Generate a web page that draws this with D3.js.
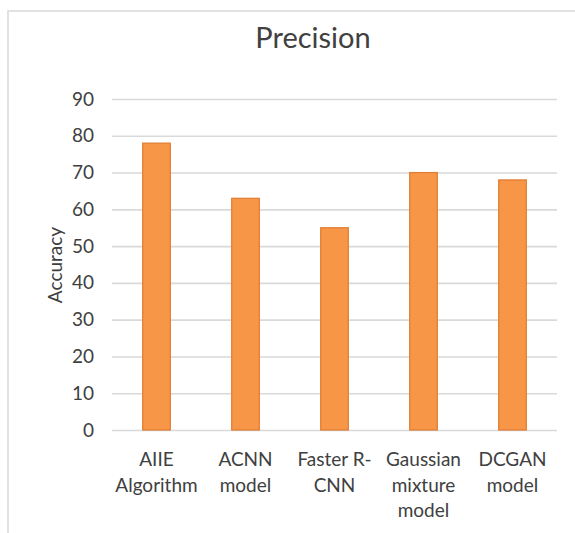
<!DOCTYPE html>
<html>
<head>
<meta charset="utf-8">
<script src="https://cdn.jsdelivr.net/npm/d3@7"></script>
<style>
  html, body { margin: 0; padding: 0; background: #fff; }
  svg { display: block; }
</style>
</head>
<body>
<svg id="chart" width="575" height="533"></svg>
<script>
const categories = [
  ["AIIE", "Algorithm"],
  ["ACNN", "model"],
  ["Faster R-", "CNN"],
  ["Gaussian", "mixture", "model"],
  ["DCGAN", "model"]
];
const categoryKeys = ["AIIE Algorithm", "ACNN model", "Faster R-CNN", "Gaussian mixture model", "DCGAN model"];
const precisionValues = [78, 63, 55, 70, 68];
const yTicks = [0, 10, 20, 30, 40, 50, 60, 70, 80, 90];
const titleText = "Precision";
const yAxisTitle = "Accuracy";

const FONT = "Lato, 'Open Sans', sans-serif";
const TEXT = "#404040";

const svg = d3.select("#chart");

// frame
svg.append("rect")
  .attr("x", 8).attr("y", 11)
  .attr("width", 600).attr("height", 600)
  .attr("fill", "none")
  .attr("stroke", "#d9d9d9")
  .attr("stroke-width", 1.5);

const x = d3.scaleBand()
  .domain(categoryKeys)
  .range([112, 557])
  .paddingInner(0.69)
  .paddingOuter(0.345);

const y = d3.scaleLinear()
  .domain([0, 90])
  .range([430, 99]);

// gridlines
const yAxis = d3.axisLeft(y)
  .tickValues(yTicks)
  .tickSize(-(557 - 112))
  .tickPadding(18);

const gy = svg.append("g")
  .attr("transform", "translate(112,0)")
  .call(yAxis);
gy.select(".domain").remove();
gy.selectAll(".tick line")
  .attr("stroke", "#d9d9d9")
  .attr("stroke-width", 1.6);
gy.selectAll(".tick text")
  .attr("fill", TEXT)
  .style("font-family", FONT)
  .style("font-size", "19px");

// bars
svg.append("g").selectAll("rect")
  .data(precisionValues)
  .join("rect")
  .attr("x", (d, i) => x(categoryKeys[i]))
  .attr("width", x.bandwidth())
  .attr("y", d => y(d))
  .attr("height", d => y(0) - y(d))
  .attr("fill", "#f79646")
  .attr("stroke", "#e07b32")
  .attr("stroke-width", 1.2);

// category labels
const gx = svg.append("g");
categories.forEach((lines, i) => {
  const cx = x(categoryKeys[i]) + x.bandwidth() / 2;
  const t = gx.append("text")
    .attr("text-anchor", "middle")
    .attr("fill", TEXT)
    .style("font-family", FONT)
    .style("font-size", "19px");
  lines.forEach((ln, j) => {
    t.append("tspan")
      .attr("x", cx)
      .attr("y", 466 + j * 25.5)
      .text(ln);
  });
});

// title
svg.append("text")
  .attr("x", 313)
  .attr("y", 48)
  .attr("text-anchor", "middle")
  .attr("fill", TEXT)
  .style("font-family", FONT)
  .style("font-size", "29px")
  .text(titleText);

// y axis title
svg.append("text")
  .attr("transform", "translate(62,265) rotate(-90)")
  .attr("text-anchor", "middle")
  .attr("fill", TEXT)
  .style("font-family", FONT)
  .style("font-size", "19px")
  .text(yAxisTitle);
</script>
</body>
</html>
